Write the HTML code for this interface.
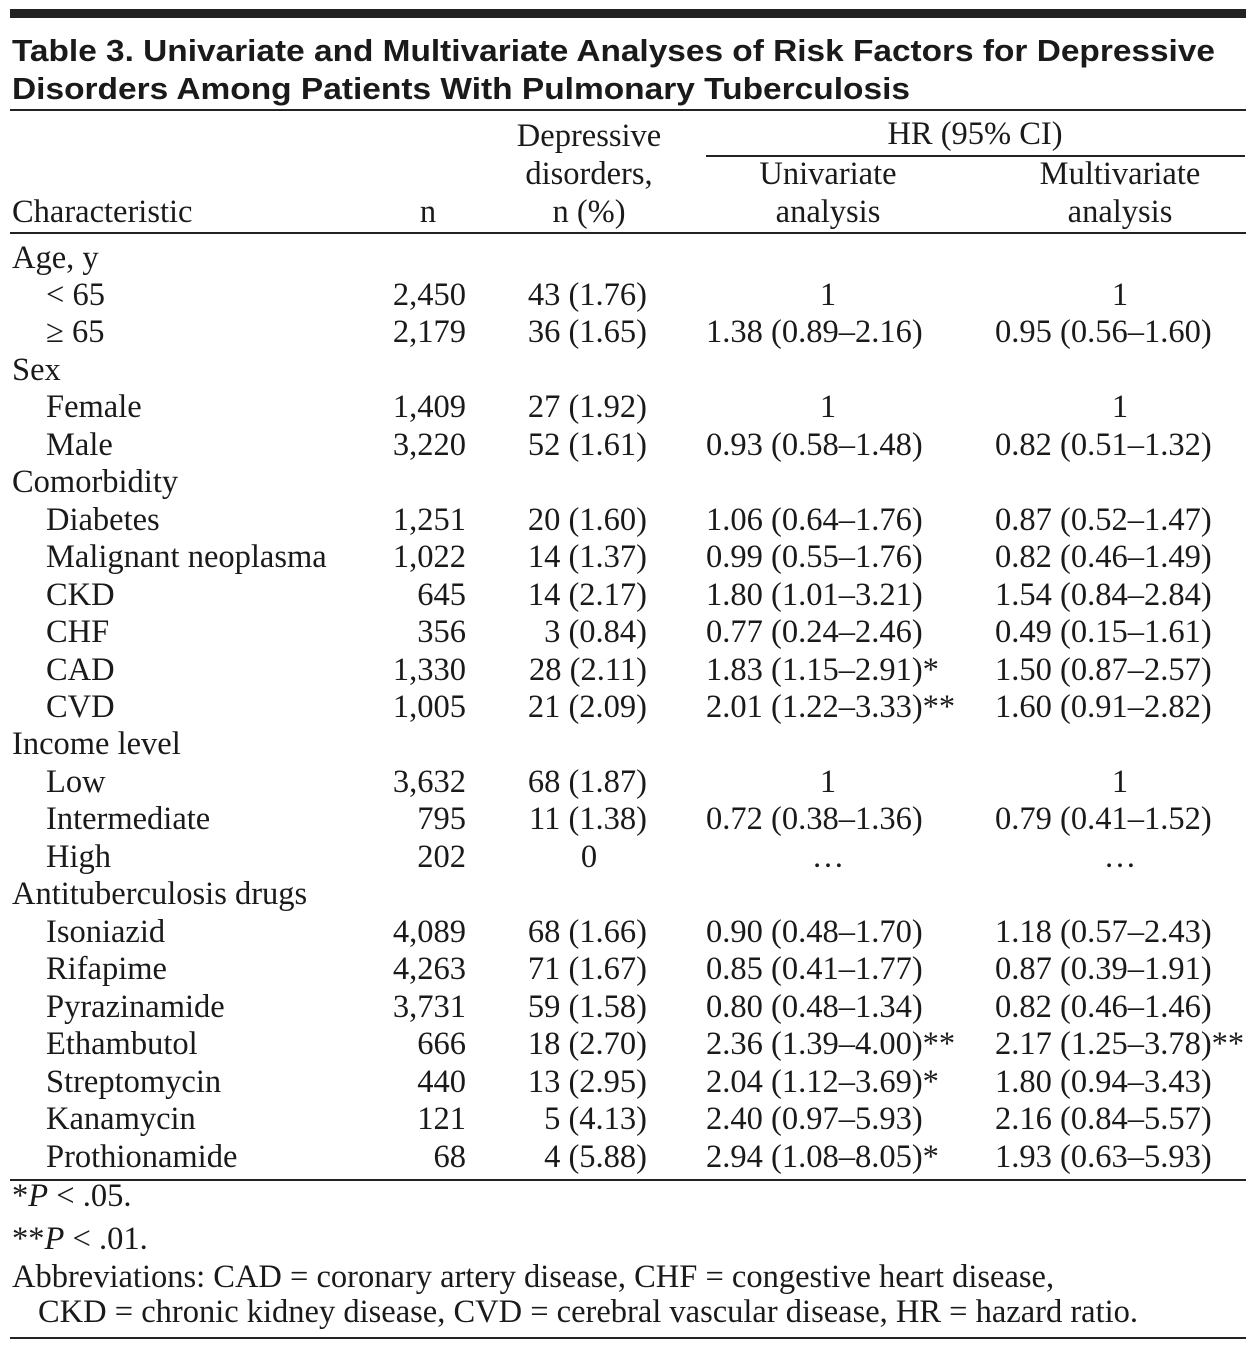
<!DOCTYPE html>
<html><head><meta charset="utf-8"><style>
body{margin:0;width:1256px;height:1350px;background:#fff;position:relative;overflow:hidden;font-family:"Liberation Serif",serif;color:#1a1a1a}
.a{position:absolute;font-size:32.5px;line-height:37.46px;white-space:nowrap}
.r{text-align:right}
.c{text-align:center}
.ln{position:absolute;left:10px;width:1236px;background:#222}
</style></head><body>
<div class="ln" style="top:9px;height:9px"></div>
<svg style="position:absolute;left:0;top:0" width="1256" height="110">
<text x="12" y="61" font-family="Liberation Sans" font-weight="bold" font-size="31" textLength="1203" lengthAdjust="spacingAndGlyphs" fill="#1a1a1a">Table 3. Univariate and Multivariate Analyses of Risk Factors for Depressive</text>
<text x="12" y="99" font-family="Liberation Sans" font-weight="bold" font-size="31" textLength="898" lengthAdjust="spacingAndGlyphs" fill="#1a1a1a">Disorders Among Patients With Pulmonary Tuberculosis</text>
</svg>
<div class="ln" style="top:109px;height:2px"></div>
<div class="ln" style="top:155px;height:1.5px;left:706px;width:539px"></div>
<div class="ln" style="top:232px;height:2px"></div>
<div class="ln" style="top:1179px;height:2px"></div>
<div class="ln" style="top:1337px;height:2px"></div>

<div class="a c" style="left:489px;width:200px;top:118px">Depressive</div>
<div class="a c" style="left:489px;width:200px;top:156px">disorders,</div>
<div class="a c" style="left:489px;width:200px;top:194px">n (%)</div>
<div class="a" style="left:12px;top:194px">Characteristic</div>
<div class="a c" style="left:380px;width:96px;top:194px">n</div>
<div class="a c" style="left:775px;width:400px;top:116px">HR (95% CI)</div>
<div class="a c" style="left:698px;width:260px;top:156px">Univariate</div>
<div class="a c" style="left:698px;width:260px;top:194px">analysis</div>
<div class="a c" style="left:990px;width:260px;top:156px">Multivariate</div>
<div class="a c" style="left:990px;width:260px;top:194px">analysis</div>

<div id="rows" style="position:absolute;left:0;top:239.5px;width:1256px"></div>
<script>
var R=[["Age, y"],["< 65","2,450","43 (1.76)","1","1"],["≥ 65","2,179","36 (1.65)","1.38 (0.89–2.16)","0.95 (0.56–1.60)"],["Sex"],["Female","1,409","27 (1.92)","1","1"],["Male","3,220","52 (1.61)","0.93 (0.58–1.48)","0.82 (0.51–1.32)"],["Comorbidity"],["Diabetes","1,251","20 (1.60)","1.06 (0.64–1.76)","0.87 (0.52–1.47)"],["Malignant neoplasma","1,022","14 (1.37)","0.99 (0.55–1.76)","0.82 (0.46–1.49)"],["CKD","645","14 (2.17)","1.80 (1.01–3.21)","1.54 (0.84–2.84)"],["CHF","356","3 (0.84)","0.77 (0.24–2.46)","0.49 (0.15–1.61)"],["CAD","1,330","28 (2.11)","1.83 (1.15–2.91)*","1.50 (0.87–2.57)"],["CVD","1,005","21 (2.09)","2.01 (1.22–3.33)**","1.60 (0.91–2.82)"],["Income level"],["Low","3,632","68 (1.87)","1","1"],["Intermediate","795","11 (1.38)","0.72 (0.38–1.36)","0.79 (0.41–1.52)"],["High","202","0","…","…"],["Antituberculosis drugs"],["Isoniazid","4,089","68 (1.66)","0.90 (0.48–1.70)","1.18 (0.57–2.43)"],["Rifapime","4,263","71 (1.67)","0.85 (0.41–1.77)","0.87 (0.39–1.91)"],["Pyrazinamide","3,731","59 (1.58)","0.80 (0.48–1.34)","0.82 (0.46–1.46)"],["Ethambutol","666","18 (2.70)","2.36 (1.39–4.00)**","2.17 (1.25–3.78)**"],["Streptomycin","440","13 (2.95)","2.04 (1.12–3.69)*","1.80 (0.94–3.43)"],["Kanamycin","121","5 (4.13)","2.40 (0.97–5.93)","2.16 (0.84–5.57)"],["Prothionamide","68","4 (5.88)","2.94 (1.08–8.05)*","1.93 (0.63–5.93)"]];
var h="";
R.forEach(function(r,i){var t=(i*37.46).toFixed(2);
if(r.length==1){h+='<div class="a" style="left:12px;top:'+t+'px">'+r[0]+'</div>';return;}
h+='<div class="a" style="left:46px;top:'+t+'px">'+r[0].replace('<','&lt;')+'</div>';
h+='<div class="a r" style="left:300px;width:166px;top:'+t+'px">'+r[1]+'</div>';
if(r[2]=="0")h+='<div class="a c" style="left:560px;width:58px;top:'+t+'px">0</div>';
else h+='<div class="a r" style="left:480px;width:167px;top:'+t+'px">'+r[2]+'</div>';
if(r[3]=="1"||r[3]=="…")h+='<div class="a c" style="left:778px;width:100px;top:'+t+'px">'+r[3]+'</div>';
else h+='<div class="a" style="left:706px;top:'+t+'px">'+r[3]+'</div>';
if(r[4]=="1"||r[4]=="…")h+='<div class="a c" style="left:1070px;width:100px;top:'+t+'px">'+r[4]+'</div>';
else h+='<div class="a" style="left:995px;top:'+t+'px">'+r[4]+'</div>';});
document.getElementById("rows").innerHTML=h;
</script>
<div class="a" style="left:12px;top:1178px">*<i>P</i> &lt; .05.</div>
<div class="a" style="left:12px;top:1221px">**<i>P</i> &lt; .01.</div>
<div class="a" style="left:12px;top:1259px">Abbreviations: CAD = coronary artery disease, CHF = congestive heart disease,</div>
<div class="a" style="left:38px;top:1294px">CKD = chronic kidney disease, CVD = cerebral vascular disease, HR = hazard ratio.</div>
</body></html>
